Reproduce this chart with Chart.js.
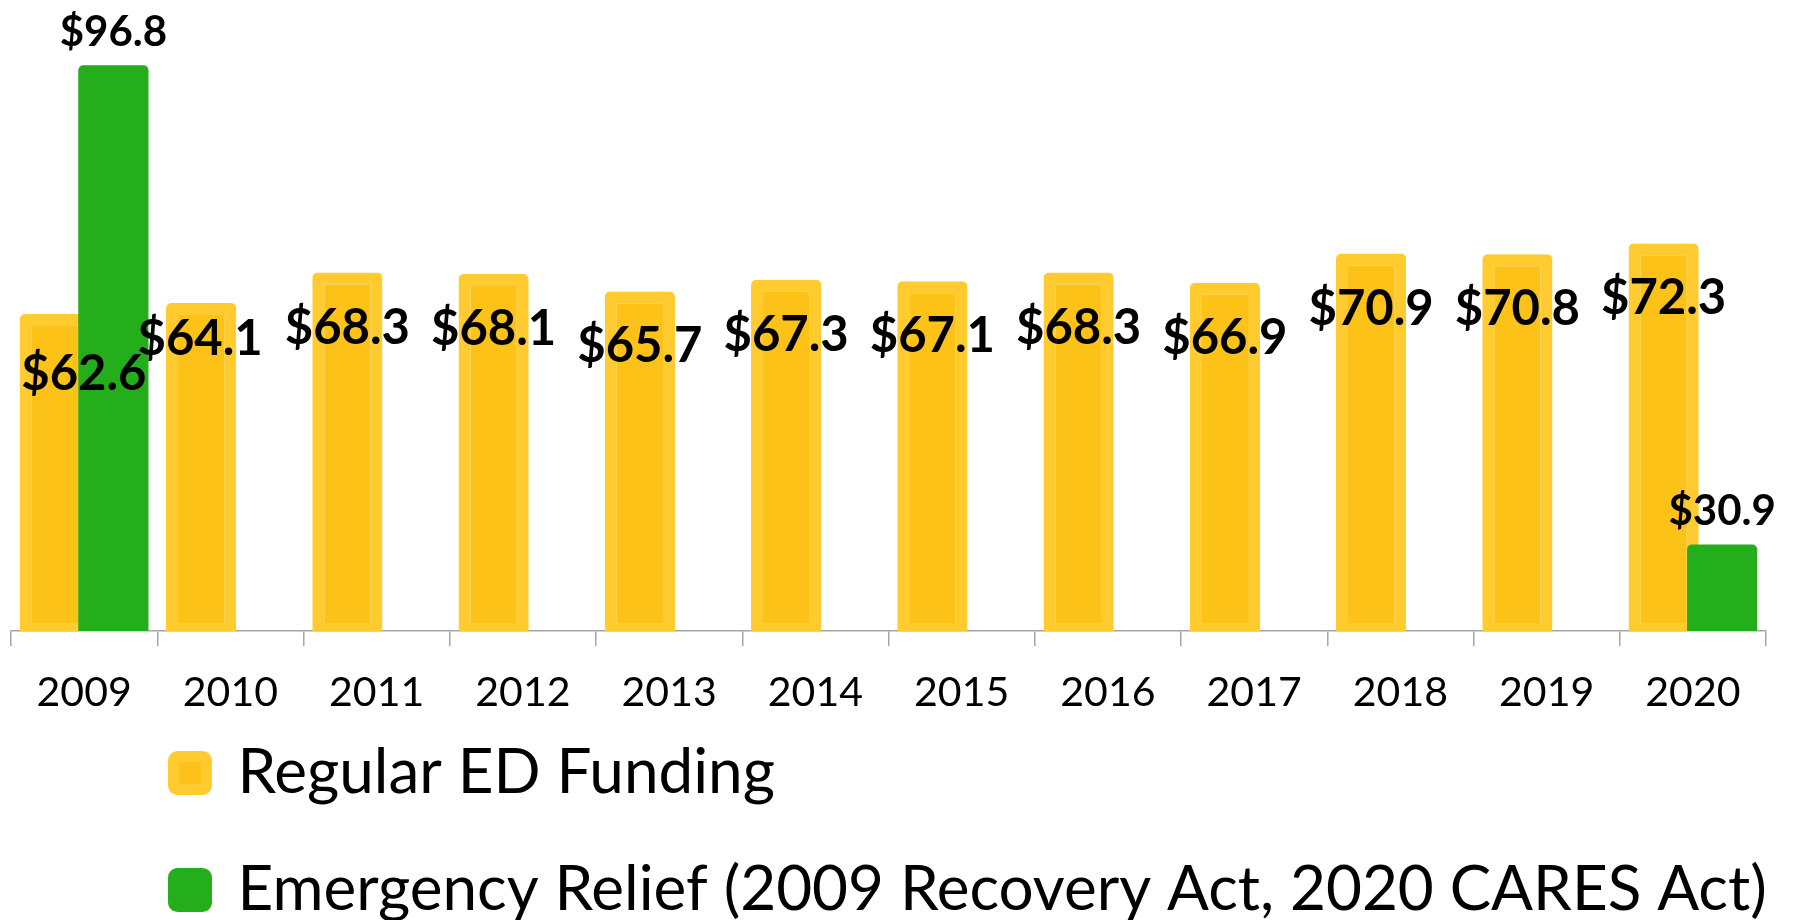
<!DOCTYPE html>
<html>
<head>
<meta charset="utf-8">
<script src="https://cdn.jsdelivr.net/npm/chart.js@4"></script>
<style>
    body { margin: 0; background: #fff; }
    #wrap { width: 1796px; height: 920px; position: relative; }
</style>
</head>
<body>
<div id="wrap"><canvas id="myChart"></canvas></div>
<script>
'use strict';

let years = ['2009', '2010', '2011', '2012', '2013', '2014', '2015', '2016', '2017', '2018', '2019', '2020'];
let regularFunding = [62.6, 64.1, 68.3, 68.1, 65.7, 67.3, 67.1, 68.3, 66.9, 70.9, 70.8, 72.3];
let emergencyRelief = [96.8, null, null, null, null, null, null, null, null, null, null, 30.9];
let seriesNames = ['Regular ED Funding', 'Emergency Relief (2009 Recovery Act, 2020 CARES Act)'];

let yellowEdge = '#FFCB2F';
let yellowFill = '#FDC217';
let green = '#25AE1B';
let axisGray = '#A5A5A5';

// a few yellow labels sit off their usual spot in the original
let labelNudge = { 0: [29, 5], 1: [-1, -19] };

// green bars must cover the yellow ones where they overlap
let greenOnTop = {
    id: 'greenOnTop',
    beforeDatasetDraw(chart, args) {
        return args.index !== 1;
    },
    afterDatasetsDraw(chart) {
        let area = chart.chartArea;
        let c = chart.ctx;
        c.save();
        c.beginPath();
        c.rect(area.left, 0, area.right - area.left, area.bottom + 2);
        c.clip();
        chart.getDatasetMeta(1).controller.draw();
        c.restore();
    }
};

let valueLabels = {
    id: 'valueLabels',
    afterDatasetsDraw(chart) {
        let ctx = chart.ctx;
        ctx.save();
        ctx.fillStyle = '#000';
        ctx.textAlign = 'center';
        ctx.textBaseline = 'alphabetic';

        let yellowMeta = chart.getDatasetMeta(0);
        ctx.font = 'bold 49px Lato';
        for (let i = 0; i < regularFunding.length; i++) {
            let bar = yellowMeta.data[i];
            let nudge = labelNudge[i] || [0, 0];
            ctx.fillText('$' + regularFunding[i].toFixed(1), bar.x + nudge[0], bar.y + 71 + nudge[1]);
        }

        let greenMeta = chart.getDatasetMeta(1);
        ctx.font = 'bold 42px Lato';
        for (let i = 0; i < emergencyRelief.length; i++) {
            if (emergencyRelief[i] === null) continue;
            let bar = greenMeta.data[i];
            ctx.fillText('$' + emergencyRelief[i].toFixed(1), bar.x, bar.y - 19);
        }
        ctx.restore();
    }
};

// put the legend rows where the original has them
let legendSpot = {
    id: 'legendSpot',
    afterLayout(chart) {
        chart.legend.left = 118.5;
        chart.legend.top = 687;
    }
};

let ctx = document.getElementById('myChart').getContext('2d');

let myChart = new Chart(ctx, {
    type: 'bar',
    data: {
        labels: years,
        datasets: [{
            label: seriesNames[0],
            data: regularFunding,
            backgroundColor: yellowFill,
            borderColor: yellowEdge,
            borderWidth: { top: 12, left: 12, right: 12, bottom: 8 },
            borderSkipped: false,
            borderRadius: { topLeft: 5, topRight: 5 },
            base: 19
        }, {
            label: seriesNames[1],
            data: emergencyRelief,
            backgroundColor: green,
            borderColor: green,
            borderWidth: 0,
            borderRadius: { topLeft: 5, topRight: 5 },
            base: 19
        }]
    },
    options: {
        responsive: true,
        maintainAspectRatio: false,
        animation: false,
        categoryPercentage: 0.8,
        barPercentage: 1.2,
        layout: {
            padding: { top: 42, left: 11, right: 30, bottom: 0 }
        },
        scales: {
            x: {
                grid: {
                    display: true,
                    offset: true,
                    drawOnChartArea: false,
                    drawTicks: true,
                    tickLength: 15,
                    color: axisGray,
                    lineWidth: 1.5
                },
                border: { display: true, color: axisGray, width: 1.5 },
                ticks: {
                    color: '#000',
                    font: { family: 'Lato', size: 41 },
                    padding: 22,
                    maxRotation: 0,
                    autoSkip: false
                },
                afterFit(scale) {
                    scale.height = 85;
                }
            },
            y: {
                display: false,
                min: 19,
                max: 100
            }
        },
        plugins: {
            legend: {
                position: 'bottom',
                align: 'start',
                maxHeight: 204,
                labels: {
                    color: '#000',
                    font: { family: 'Lato', size: 62 },
                    boxWidth: 33,
                    boxHeight: 33,
                    padding: 55,
                    useBorderRadius: true,
                    borderRadius: 4,
                    generateLabels(chart) {
                        let items = Chart.defaults.plugins.legend.labels.generateLabels(chart);
                        items.forEach(function (item) {
                            item.lineWidth = 11;
                        });
                        return items;
                    }
                }
            },
            tooltip: { enabled: false }
        }
    },
    plugins: [greenOnTop, valueLabels, legendSpot]
});
</script>
</body>
</html>
